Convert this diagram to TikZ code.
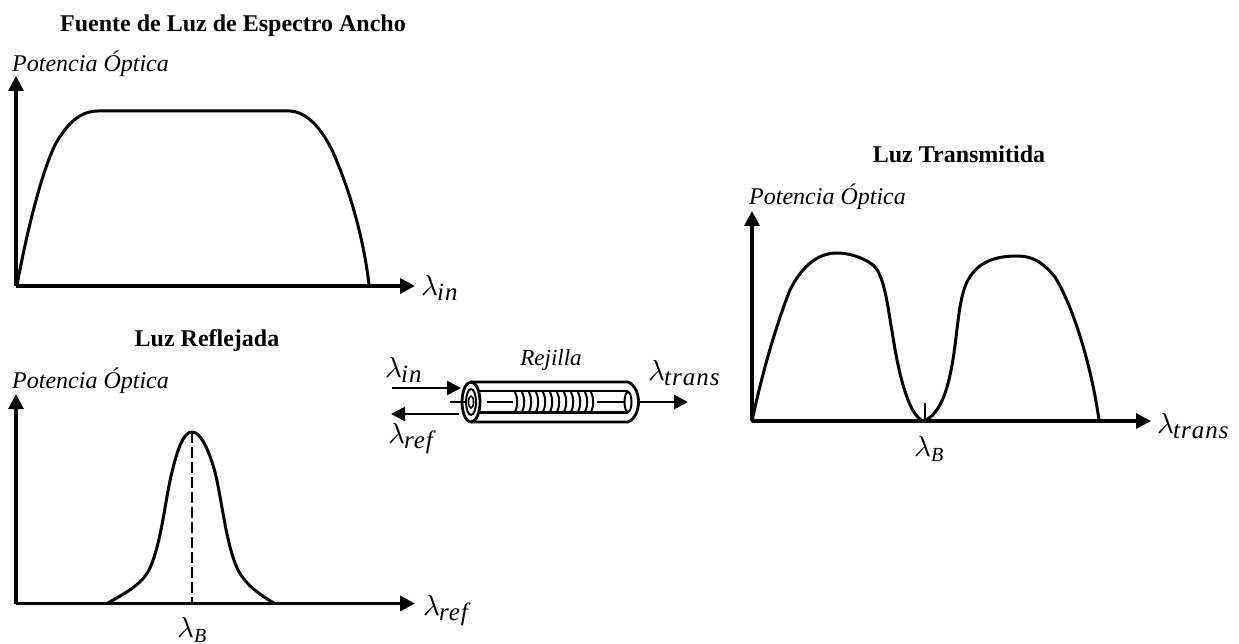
\documentclass[tikz,border=0pt]{standalone}
\usepackage{fontspec}
\usepackage{unicode-math}
\setmainfont{Liberation Serif}
\setmathfont{Latin Modern Math}
\usetikzlibrary{arrows.meta}
\newcommand\lamsub[1]{$\lambda$\kern-1pt\raisebox{-5pt}{\fontsize{25}{28}\selectfont\itshape\addfontfeature{LetterSpace=4}#1}}
\newcommand\lamB{$\lambda$\raisebox{-5pt}{\fontsize{20}{24}\selectfont\itshape B}}
\tikzset{
  axis/.style={line width=3.2pt,-{Triangle[length=15pt,width=15pt]}},
  curve/.style={line width=3pt,line cap=round,line join=round},
  ttl/.style={font=\bfseries\fontsize{24}{28}\selectfont,inner sep=0pt},
  plab/.style={font=\itshape\fontsize{24}{28}\selectfont,inner sep=0pt,anchor=base west},
  mlab/.style={font=\fontsize{29}{32}\selectfont,inner sep=0pt,anchor=base west},
  tube/.style={line width=2.8pt},
  arr/.style={line width=2.8pt,-{Triangle[length=14pt,width=14pt]}},
}
\begin{document}
\begin{tikzpicture}[x=1pt,y=-1pt]
\useasboundingbox (0,0) rectangle (1239,644);
% graph 1
\coordinate (o1) at (16,286); \coordinate (y1) at (16,76); \coordinate (x1) at (415,286);
\node[ttl] (t1) at (233,26) {Fuente de Luz de Espectro Ancho};
\node[plab] (p1) at (12,72) {Potencia Óptica};
\draw[axis] (o1) -- (y1);
\draw[axis] (o1) -- (x1);
\draw[curve] (17,285) .. controls (30,215) and (45,165) .. (55,145) .. controls (65,127) and (78,111) .. (98,111) -- (290,111) .. controls (308,112) and (322,130) .. (332,150) .. controls (350,190) and (364,240) .. (369,285);
\node[mlab] (l1) at (421,295) {\lamsub{in}};
% graph 2
\coordinate (o2) at (16,603.5); \coordinate (y2) at (16,394); \coordinate (x2) at (415,603.5);
\node[ttl] (t2) at (207,341) {Luz Reflejada};
\node[plab] (p2) at (12,388) {Potencia Óptica};
\draw[axis] (o2) -- (y2);
\draw[axis] (o2) -- (x2);
\draw[curve] (108,603) .. controls (125,593) and (142,585) .. (150,568) .. controls (162,540) and (165,500) .. (172,472) .. controls (178,447) and (184,432) .. (192,432) .. controls (200,432) and (208,447) .. (215,472) .. controls (222,500) and (226,545) .. (238,570) .. controls (246,585) and (260,595) .. (274,603);
\coordinate (pk2) at (192,432); \coordinate (bs2) at (192,603);
\draw[line width=1.4pt,dash pattern=on 11pt off 4pt] (pk2) -- (bs2);
\node[mlab] (l2) at (423,615) {\lamsub{ref}};
\node[mlab] (b2) at (177,637) {\lamB};
% graph 3
\coordinate (o3) at (752,421); \coordinate (y3) at (752,211); \coordinate (x3) at (1151,421);
\node[ttl] (t3) at (959,154) {Luz Transmitida};
\node[plab] (p3) at (749,205) {Potencia Óptica};
\draw[axis] (o3) -- (y3);
\draw[axis] (o3) -- (x3);
\draw[curve] (752,421) .. controls (765,360) and (780,315) .. (790,290) .. controls (800,270) and (815,253) .. (837,253) .. controls (850,253) and (864,258) .. (873,265) .. controls (885,275) and (888,310) .. (893,337) .. controls (898,370) and (908,415) .. (923,421) .. controls (935,418) and (945,400) .. (950,375) .. controls (958,340) and (957,300) .. (968,280) .. controls (978,262) and (995,256) .. (1017,256) .. controls (1035,256) and (1045,265) .. (1055,277) .. controls (1075,310) and (1092,370) .. (1099,420);
\coordinate (tk3) at (925,403); \coordinate (bs3) at (925,421);
\draw[line width=1.3pt] (tk3) -- (bs3);
\node[mlab] (l3) at (1157,433) {\lamsub{trans}};
\node[mlab] (b3) at (914,456) {\lamB};
% fibre
\node[font=\itshape\fontsize{23}{26}\selectfont,inner sep=0pt,anchor=base] (rj) at (551,365) {Rejilla};
\draw[tube] (471,382) -- (628,382) .. controls (642,388) and (642,416) .. (628,422) -- (471,422);
\draw[tube,fill=white] (471,402) ellipse[x radius=9,y radius=20];
\draw[line width=2pt] (471,402) ellipse[x radius=5,y radius=13];
\draw[line width=1.6pt] (471,402) ellipse[x radius=2.5,y radius=6];
\draw[line width=2.2pt] (478,391) -- (628,391) (478,412.5) -- (628,412.5);
\draw[line width=2pt] (628,402) ellipse[x radius=3.5,y radius=10];
\draw[line width=2pt] (450,402) -- (466,402) (487,402) -- (513,402) (597,402) -- (624,402);
\foreach \xx in {515,522,529,536,543,550,557,564,571,578,585,591}
  \draw[line width=2pt] (\xx,392) .. controls (\xx+3,398) and (\xx+3,406) .. (\xx,412);
\draw[white,line width=1.2pt,dash pattern=on 4pt off 3pt] (519,402) -- (590,402);
\coordinate (a1) at (392,388); \coordinate (a2) at (461,388);
\coordinate (b1) at (459,414); \coordinate (b2p) at (391,414);
\coordinate (c1) at (639,402); \coordinate (c2) at (688,402);
\draw[arr] (a1) -- (a2);
\draw[arr] (b1) -- (b2p);
\draw[arr] (c1) -- (c2);
\node[mlab] (l4) at (385,377) {\lamsub{in}};
\node[mlab] (l5) at (388,443) {\lamsub{ref}};
\node[mlab] (l6) at (648,380) {\lamsub{trans}};
\end{tikzpicture}
\end{document}
